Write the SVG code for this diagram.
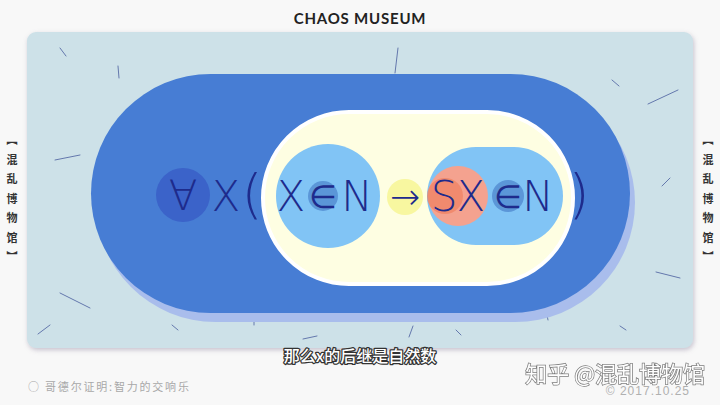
<svg xmlns="http://www.w3.org/2000/svg" width="720" height="405" viewBox="0 0 720 405">
<defs>
<filter id="sh" x="-10%" y="-10%" width="120%" height="125%">
<feDropShadow dx="1" dy="2" stdDeviation="2.5" flood-color="#8a7f99" flood-opacity="0.45"/>
</filter>
<style>
.tk{stroke:#6478ad;stroke-width:1;fill:none;stroke-linecap:round}
.m{font-family:"DejaVu Sans","Liberation Sans",sans-serif;font-weight:200;fill:#1e2b8c;text-anchor:middle}
.side{font-family:"Noto Sans CJK SC",sans-serif;font-size:11px;font-weight:700;fill:#333;writing-mode:vertical-rl;text-anchor:middle;letter-spacing:8.5px}
</style>
</defs>
<rect width="720" height="405" fill="#f8f8f8"/>
<g id="panel">
<rect x="27" y="32" width="666" height="316" rx="9" fill="#cde1e8" filter="url(#sh)"/>
</g>
<g id="ticks">
<line class="tk" x1="60" y1="48" x2="66" y2="56"/>
<line class="tk" x1="118" y1="66" x2="119" y2="78"/>
<line class="tk" x1="55" y1="160" x2="80" y2="155"/>
<line class="tk" x1="398" y1="48" x2="395" y2="73"/>
<line class="tk" x1="612" y1="80" x2="619" y2="86"/>
<line class="tk" x1="648" y1="104" x2="678" y2="90"/>
<line class="tk" x1="662" y1="186" x2="670" y2="178"/>
<line class="tk" x1="656" y1="272" x2="680" y2="278"/>
<line class="tk" x1="60" y1="293" x2="90" y2="308"/>
<line class="tk" x1="38" y1="334" x2="50" y2="325"/>
<line class="tk" x1="172" y1="325" x2="178" y2="330"/>
<line class="tk" x1="254" y1="316" x2="254" y2="325"/>
<line class="tk" x1="303" y1="339" x2="317" y2="336"/>
<line class="tk" x1="409" y1="337" x2="413" y2="326"/>
<line class="tk" x1="456" y1="330" x2="461" y2="335"/>
<line class="tk" x1="546" y1="310" x2="548" y2="320"/>
<line class="tk" x1="620" y1="326" x2="626" y2="330"/>
</g>
<g id="outer-pill">
<rect x="96" y="83" width="539" height="239" rx="119.5" fill="#a9bdec"/>
<rect x="91" y="74" width="539" height="239" rx="119.5" fill="#477dd4"/>
</g>
<g id="inner-pill">
<rect x="263" y="112" width="310" height="172" rx="86" fill="#fefee2" stroke="#ffffff" stroke-width="4"/>
</g>
<g id="forall">
<circle cx="183" cy="195" r="27" fill="#3b63c9"/>
<text class="m" x="183" y="210" font-size="42">∀</text>
</g>
<g id="x-paren">
<text class="m" x="226" y="211" font-size="42">X</text>
<text class="m" x="252" y="213" font-size="54">(</text>
</g>
<g id="x-in-n">
<circle cx="328" cy="196" r="52" fill="#81c4f5"/>
<circle cx="323" cy="196" r="15" fill="#5b96d8"/>
<text class="m" x="291" y="211" font-size="42">X</text>
<text class="m" x="323" y="208" font-size="32">∈</text>
<text class="m" x="357" y="211" font-size="42">N</text>
</g>
<g id="arrow">
<circle cx="405" cy="197" r="18" fill="#f8f7a0"/>
<text class="m" x="405" y="209" font-size="36">→</text>
</g>
<g id="sx-in-n">
<rect x="427" y="147" width="136" height="98" rx="49" fill="#81c4f5"/>
<circle cx="458" cy="196" r="30" fill="#f4a28f"/>
<circle cx="445" cy="196" r="18" fill="#ef8060" opacity="0.7"/>
<circle cx="508" cy="196" r="16" fill="#5b96d8"/>
<text class="m" x="444" y="211" font-size="42">S</text>
<text class="m" x="471" y="211" font-size="42">X</text>
<text class="m" x="508" y="208" font-size="32">∈</text>
<text class="m" x="538" y="211" font-size="42">N</text>
</g>
<g id="close-paren">
<text class="m" x="579" y="213" font-size="54">)</text>
</g>
<g id="title">
<text x="360" y="24" font-family="Lato,'Liberation Sans',sans-serif" font-weight="700" font-size="15" fill="#222" text-anchor="middle" letter-spacing="0.8">CHAOS MUSEUM</text>
</g>
<g id="side-left">
<text class="side" x="12" y="203">【混乱博物馆】</text>
</g>
<g id="side-right">
<text class="side" x="708" y="203">【混乱博物馆】</text>
</g>
<g id="subtitle">
<text x="360" y="362" font-family="'Noto Sans CJK SC',sans-serif" font-size="16" font-weight="500" fill="#ffffff" stroke="#333" stroke-width="2.5" paint-order="stroke" stroke-linejoin="round" text-anchor="middle">那么x的后继是自然数</text>
</g>
<g id="footer">
<text x="28" y="391" font-family="'Noto Sans CJK SC',sans-serif" font-size="11" fill="#a8a8a8" letter-spacing="1.8">○ 哥德尔证明:智力的交响乐</text>
<text x="705" y="382" font-family="'Noto Sans CJK SC',sans-serif" font-size="22" fill="#ffffff" stroke="#777" stroke-width="1.5" paint-order="stroke" text-anchor="end" opacity="0.95">知乎 @混乱博物馆</text>
<text x="690" y="395" font-family="'Liberation Sans',sans-serif" font-size="12" fill="#b0b0b0" text-anchor="end" letter-spacing="1">© 2017.10.25</text>
</g>
</svg>
